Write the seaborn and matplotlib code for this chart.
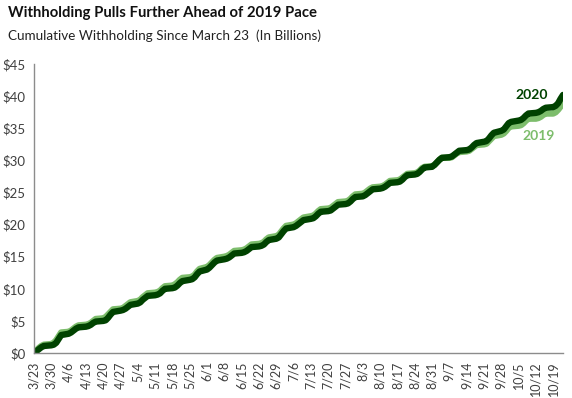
import pandas as pd
import matplotlib
matplotlib.use("Agg")
import matplotlib.pyplot as plt
import seaborn as sns

# ---------------------------
# Data (cumulative withholding, $ billions, business days)
# ---------------------------
start_date = "2020-03-23"
end_date = "2020-10-23"

withholding_2020 = [
    0.1, 0.3, 0.6, 0.9, 1.1,
    1.2, 1.3, 1.6, 2.2, 2.8,
    3.0, 3.2, 3.5, 3.8, 4.0,
    4.1, 4.2, 4.4, 4.7, 4.9,
    5.0, 5.1, 5.5, 6.0, 6.4,
    6.6, 6.7, 6.9, 7.2, 7.5,
    7.7, 7.9, 8.3, 8.6, 8.9,
    9.0, 9.1, 9.3, 9.7, 10.0,
    10.1, 10.2, 10.5, 10.9, 11.2,
    11.4, 11.5, 11.8, 12.3, 12.7,
    13.0, 13.3, 13.7, 14.1, 14.4,
    14.6, 14.7, 14.9, 15.2, 15.5,
    15.6, 15.7, 15.9, 16.2, 16.5,
    16.6, 16.7, 16.9, 17.3, 17.6,
    17.8, 18.0, 18.5, 19.0, 19.4,
    19.6, 19.8, 20.1, 20.4, 20.7,
    20.9, 21.0, 21.3, 21.7, 22.0,
    22.1, 22.2, 22.5, 22.8, 23.1,
    23.2, 23.3, 23.6, 24.0, 24.3,
    24.4, 24.6, 24.9, 25.2, 25.5,
    25.6, 25.7, 25.9, 26.2, 26.5,
    26.6, 26.7, 27.0, 27.4, 27.7,
    27.8, 27.9, 28.2, 28.6, 28.9,
    29.0, 29.3, 29.7, 30.1, 30.4,
    30.5, 30.6, 30.9, 31.2, 31.5,
    31.6, 31.7, 32.0, 32.4, 32.7,
    32.9, 33.0, 33.4, 33.9, 34.3,
    34.6, 34.8, 35.3, 35.8, 36.0,
    36.2, 36.3, 36.6, 37.0, 37.3,
    37.4, 37.5, 37.7, 38.0, 38.2,
    38.3, 38.5, 38.9, 39.6, 40.2,
]

withholding_2019 = [
    0.1, 0.4, 0.8, 1.1, 1.3,
    1.4, 1.6, 2.0, 2.6, 3.2,
    3.3, 3.5, 3.8, 4.1, 4.3,
    4.4, 4.5, 4.7, 5.0, 5.3,
    5.4, 5.6, 6.0, 6.4, 6.8,
    6.9, 7.0, 7.3, 7.6, 7.9,
    8.1, 8.3, 8.7, 9.0, 9.3,
    9.4, 9.5, 9.7, 10.1, 10.4,
    10.5, 10.7, 11.0, 11.4, 11.7,
    11.8, 11.9, 12.2, 12.7, 13.1,
    13.4, 13.7, 14.1, 14.5, 14.8,
    15.0, 15.1, 15.3, 15.6, 15.9,
    16.0, 16.1, 16.3, 16.6, 16.9,
    17.0, 17.1, 17.3, 17.7, 18.0,
    18.2, 18.4, 18.9, 19.4, 19.8,
    20.0, 20.2, 20.5, 20.8, 21.1,
    21.3, 21.4, 21.7, 22.1, 22.4,
    22.5, 22.6, 22.9, 23.2, 23.5,
    23.6, 23.7, 24.0, 24.4, 24.7,
    24.8, 25.0, 25.3, 25.6, 25.8,
    25.9, 26.0, 26.2, 26.5, 26.8,
    26.9, 27.0, 27.3, 27.6, 27.9,
    28.0, 28.1, 28.4, 28.8, 29.0,
    29.1, 29.3, 29.7, 30.1, 30.4,
    30.4, 30.5, 30.8, 31.1, 31.3,
    31.4, 31.5, 31.8, 32.1, 32.4,
    32.5, 32.6, 33.0, 33.4, 33.8,
    34.0, 34.2, 34.6, 35.1, 35.3,
    35.4, 35.5, 35.8, 36.2, 36.5,
    36.5, 36.6, 36.8, 37.1, 37.3,
    37.3, 37.5, 37.9, 38.4, 38.9,
]

tick_dates = [
    "2020-03-23", "2020-03-30", "2020-04-06", "2020-04-13", "2020-04-20",
    "2020-04-27", "2020-05-04", "2020-05-11", "2020-05-18", "2020-05-25",
    "2020-06-01", "2020-06-08", "2020-06-15", "2020-06-22", "2020-06-29",
    "2020-07-06", "2020-07-13", "2020-07-20", "2020-07-27", "2020-08-03",
    "2020-08-10", "2020-08-17", "2020-08-24", "2020-08-31", "2020-09-07",
    "2020-09-14", "2020-09-21", "2020-09-28", "2020-10-05", "2020-10-12",
    "2020-10-19",
]
tick_labels = [
    "3/23", "3/30", "4/6", "4/13", "4/20", "4/27", "5/4", "5/11", "5/18",
    "5/25", "6/1", "6/8", "6/15", "6/22", "6/29", "7/6", "7/13", "7/20",
    "7/27", "8/3", "8/10", "8/17", "8/24", "8/31", "9/7", "9/14", "9/21",
    "9/28", "10/5", "10/12", "10/19",
]
y_ticks = [0, 5, 10, 15, 20, 25, 30, 35, 40, 45]

# ---------------------------
# Long-form table
# ---------------------------
dates = pd.bdate_range(start_date, end_date)
df = pd.concat([
    pd.DataFrame({"Date": dates, "Value": withholding_2019, "Year": "2019"}),
    pd.DataFrame({"Date": dates, "Value": withholding_2020, "Year": "2020"}),
], ignore_index=True)

DARK = "#004200"
LIGHT = "#7dbd6c"
TEXT = "#404040"

# ---------------------------
# Plot
# ---------------------------
sns.set_style("white")
plt.rcParams["font.family"] = ["Lato", "DejaVu Sans"]

fig = plt.figure(figsize=(5.72, 3.98), dpi=100)
ax = fig.add_axes([0.0594, 0.113, 0.925, 0.726])

sns.lineplot(
    data=df, x="Date", y="Value", hue="Year",
    hue_order=["2019", "2020"],
    palette={"2019": LIGHT, "2020": DARK},
    linewidth=4.6, legend=False, ax=ax,
)

ax.set_xlim(pd.Timestamp(start_date), pd.Timestamp(end_date))
ax.set_ylim(0, 45)
ax.set_xticks(pd.to_datetime(tick_dates))
ax.set_xticklabels(tick_labels, rotation=90, fontsize=9, color=TEXT)
ax.set_yticks(y_ticks)
ax.set_yticklabels([f"${v}" for v in y_ticks], fontsize=9.5, color=TEXT)
ax.set_xlabel("")
ax.set_ylabel("")

for side in ["top", "right"]:
    ax.spines[side].set_visible(False)
for side in ["left", "bottom"]:
    ax.spines[side].set_color("#8c8c8c")
    ax.spines[side].set_linewidth(1.0)
ax.tick_params(axis="both", direction="out", length=4, width=1,
               color="#8c8c8c", pad=2)

# series labels
ax.text(0.94, 0.893, "2020", transform=ax.transAxes, fontsize=10,
        fontweight="bold", color=DARK, ha="center", va="center")
ax.text(0.953, 0.751, "2019", transform=ax.transAxes, fontsize=10,
        fontweight="bold", color=LIGHT, ha="center", va="center")

# titles
fig.text(0.014, 0.967, "Withholding Pulls Further Ahead of 2019 Pace",
         fontsize=10.7, fontweight="bold", color="#111111", va="center")
fig.text(0.014, 0.909, "Cumulative Withholding Since March 23  (In Billions)",
         fontsize=9.7, color="#222222", va="center")

fig.savefig("out.png", dpi=100)
plt.close(fig)
print("Saved out.png")
